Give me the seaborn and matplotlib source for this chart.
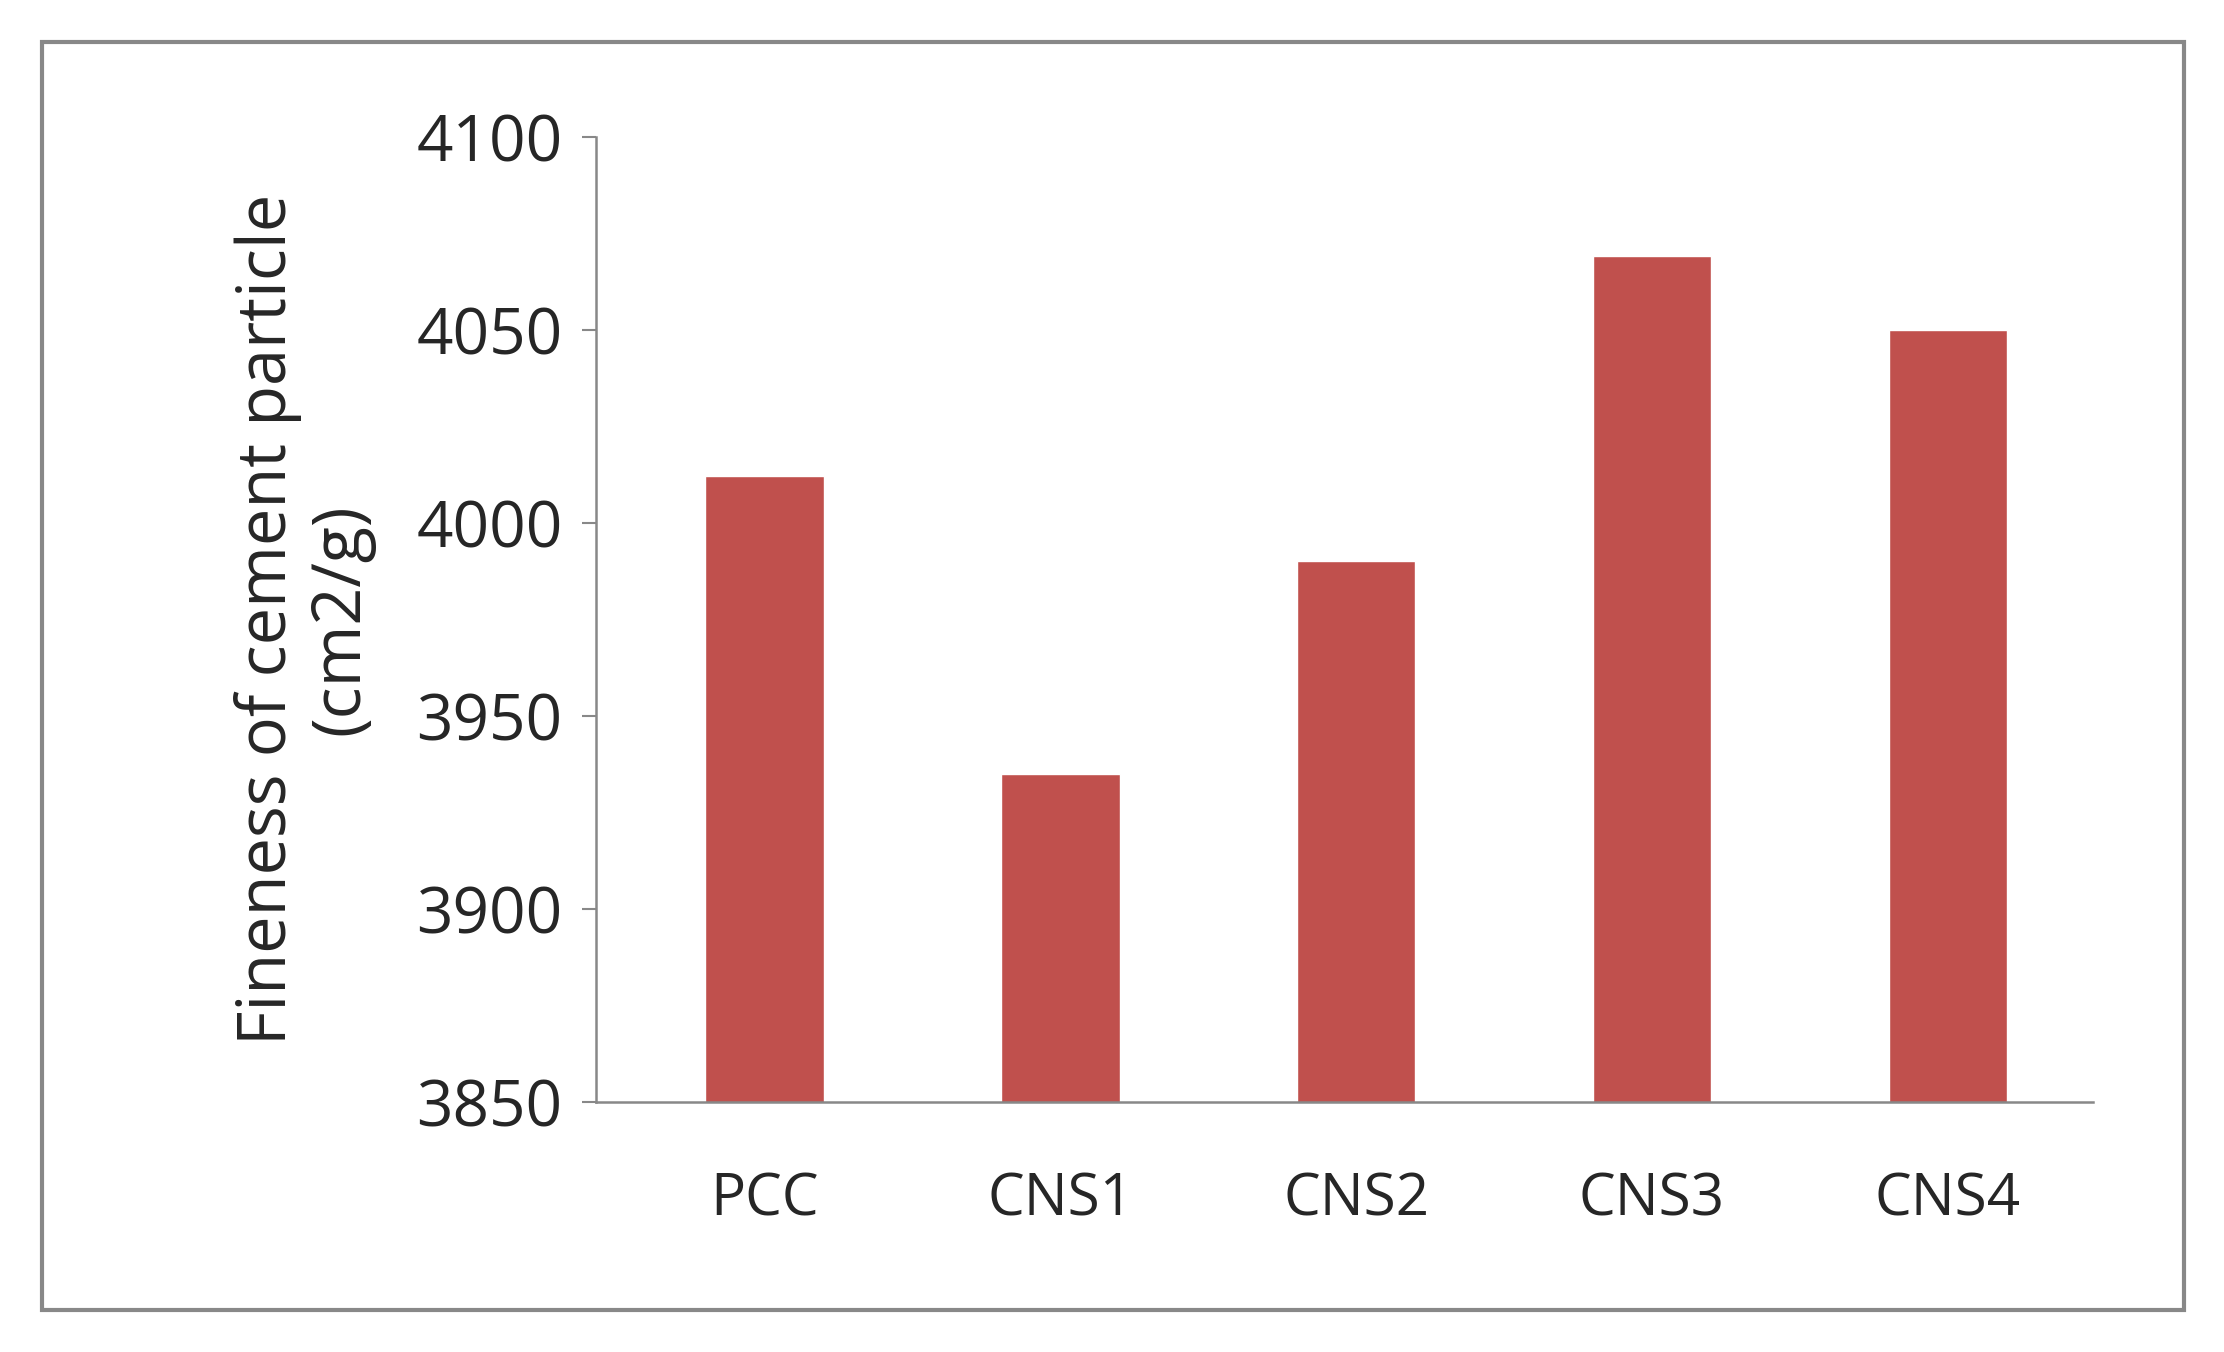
import matplotlib
matplotlib.use("Agg")
import matplotlib.pyplot as plt
import seaborn as sns
import pandas as pd
from matplotlib.patches import Rectangle

categories = ["PCC", "CNS1", "CNS2", "CNS3", "CNS4"]
fineness = [4012, 3935, 3990, 4069, 4050]
y_ticks = [3850, 3900, 3950, 4000, 4050, 4100]

df = pd.DataFrame({"mix": categories, "fineness": fineness})

sns.set_theme(style="white")
plt.rcParams["font.family"] = ["Open Sans", "DejaVu Sans"]

fig = plt.figure(figsize=(22.24, 13.52), dpi=100)
ax = fig.add_axes([0.268, 0.185, 0.673, 0.714])

sns.barplot(data=df, x="mix", y="fineness", color="#C0504D", width=0.4,
            saturation=1, ax=ax)

ax.set_xlim(-0.57, 4.49)
ax.set_ylim(3850, 4100)
ax.set_yticks(y_ticks)
ax.set_yticklabels([str(t) for t in y_ticks], fontsize=46)
ax.tick_params(axis="x", labelsize=42, length=0, pad=50)
ax.tick_params(axis="y", length=10, width=1.5, color="#888888", left=True, pad=14)
ax.set_xlabel("")
ax.set_ylabel("Fineness of cement particle\n(cm2/g)", fontsize=48, labelpad=30,
              linespacing=1.1)

for side in ["top", "right"]:
    ax.spines[side].set_visible(False)
for side in ["left", "bottom"]:
    ax.spines[side].set_color("#888888")
    ax.spines[side].set_linewidth(1.8)

fig.patches.append(Rectangle((0.019, 0.031), 0.963, 0.938, transform=fig.transFigure,
                             fill=False, edgecolor="#888888", linewidth=3))

fig.savefig("out.png", dpi=100)
